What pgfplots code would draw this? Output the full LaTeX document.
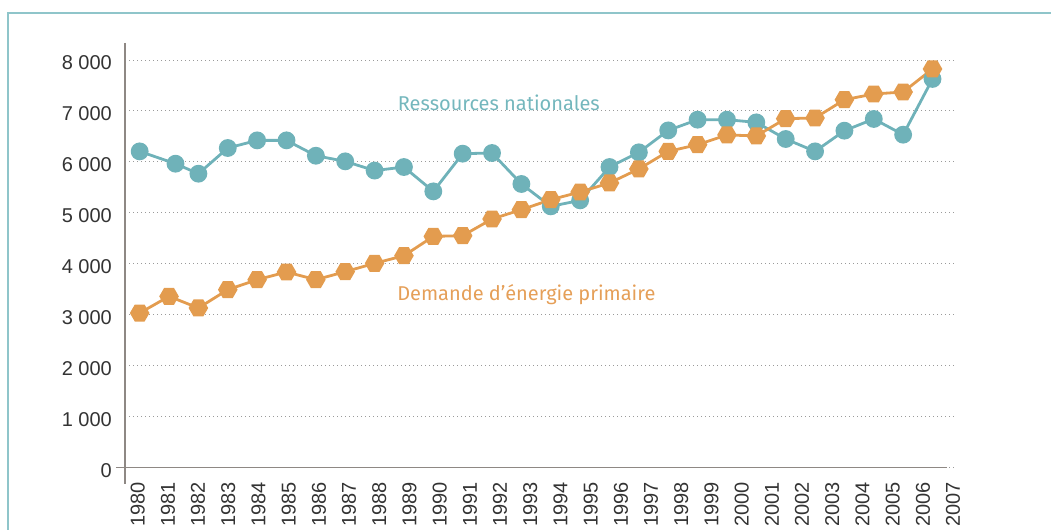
\documentclass[border=0pt]{standalone}
\usepackage{fontspec}
\setmainfont{Liberation Sans}
\newfontfamily\fira{Fira Sans}
\usepackage{pgfplots}
\pgfplotsset{compat=1.18}
\definecolor{teal1}{HTML}{6FB2B9}
\definecolor{orange1}{HTML}{E39C4F}
\definecolor{tealtxt}{HTML}{74B7BD}
\definecolor{orangetxt}{HTML}{E59F58}
\definecolor{frame1}{HTML}{8FC5CA}
\definecolor{axgrey}{HTML}{8E8884}
\definecolor{gridgrey}{HTML}{9A9A9A}
\definecolor{txtgrey}{HTML}{333333}
\pgfdeclareplotmark{hexagon}{%
  \pgfpathmoveto{\pgfqpoint{\pgfplotmarksize}{0pt}}%
  \pgfpathlineto{\pgfpointpolar{60}{\pgfplotmarksize}}%
  \pgfpathlineto{\pgfpointpolar{120}{\pgfplotmarksize}}%
  \pgfpathlineto{\pgfpointpolar{180}{\pgfplotmarksize}}%
  \pgfpathlineto{\pgfpointpolar{240}{\pgfplotmarksize}}%
  \pgfpathlineto{\pgfpointpolar{300}{\pgfplotmarksize}}%
  \pgfpathclose
  \pgfusepathqfill}
\begin{document}
\begin{tikzpicture}
\useasboundingbox (0,0) rectangle (525.5pt,265pt);
\draw[frame1, line width=1pt] (4pt,-2pt) -- (4pt,258.65pt) -- (527pt,258.65pt);
\begin{axis}[
  at={(62.5pt,31.15pt)}, anchor=south west,
  scale only axis, width=415.5pt, height=203.85pt,
  xmin=-0.5, xmax=27.80, ymin=0, ymax=8000,
  axis x line=bottom, axis y line=left, axis line style={draw=none},
  clip=false,
  ymajorgrids, grid style={gridgrey, line width=0.5pt, dash pattern=on 0.5pt off 1.5pt},
  major tick length=0pt, minor tick length=0pt, tick align=inside,
  tick style={draw=none, opacity=0}, major tick style={draw=none, opacity=0},
  ytick={0,1000,...,8000},
  yticklabels={0,1\ 000,2\ 000,3\ 000,4\ 000,5\ 000,6\ 000,7\ 000,8\ 000},
  yticklabel style={anchor=east, inner sep=0pt, font=\fontsize{10}{12}\selectfont, text=txtgrey, yshift=-1.5pt},
  yticklabel shift=6.4pt,
  xtick={-0.068,0.960,1.989,3.017,4.046,5.074,6.103,7.131,8.160,9.188,10.217,11.245,12.274,13.302,14.331,15.359,16.388,17.416,18.445,19.473,20.502,21.530,22.559,23.587,24.616,25.644,26.673,27.701},
  xticklabels={1980,1981,1982,1983,1984,1985,1986,1987,1988,1989,1990,1991,1992,1993,1994,1995,1996,1997,1998,1999,2000,2001,2002,2003,2004,2005,2006,2007},
  xticklabel style={rotate=90, anchor=east, inner sep=0pt, font=\fontsize{10}{12}\selectfont, text=txtgrey},
  xticklabel shift=7pt,
]
\draw[axgrey, line width=0.8pt] (axis cs:-0.5,8334) -- (axis cs:-0.5,-320);
\draw[axgrey, line width=0.8pt] (axis cs:-0.807,0) -- (axis cs:27.5,0);
\addplot[teal1, line width=1.4pt, mark=*, mark size=3.75pt, mark options={fill=teal1, draw=none}] coordinates {
(0,6207) (1.22,5965) (2,5769) (3,6273) (4,6423) (5,6423) (6,6122) (7,6011)
(8,5830) (9,5900) (10,5422) (11,6162) (12,6175) (13,5567) (14,5128) (15,5246)
(16,5900) (17,6188) (18,6619) (19,6829) (20,6829) (21,6776) (22,6450) (23,6207)
(24,6613) (25,6843) (26,6535) (27,7628)};
\addplot[orange1, line width=1.4pt, mark=hexagon, mark size=4.9pt, mark options={fill=orange1, draw=none}] coordinates {
(0,3035) (1,3362) (2,3134) (3,3493) (4,3689) (5,3840) (6,3689) (7,3846)
(8,4010) (9,4160) (10,4539) (11,4553) (12,4880) (13,5063) (14,5259) (15,5410)
(16,5587) (17,5862) (18,6207) (19,6338) (20,6530) (21,6510) (22,6849) (23,6862)
(24,7221) (25,7333) (26,7372) (27,7824)};
\node[anchor=base west, inner sep=0pt, text=tealtxt, font=\fira\fontsize{10}{12}\selectfont] at (axis cs:8.78,7000) {Ressources nationales};
\node[anchor=base west, inner sep=0pt, text=orangetxt, font=\fira\fontsize{10}{12}\selectfont] at (axis cs:8.76,3283) {Demande d’énergie primaire};
\end{axis}
\end{tikzpicture}
\end{document}
